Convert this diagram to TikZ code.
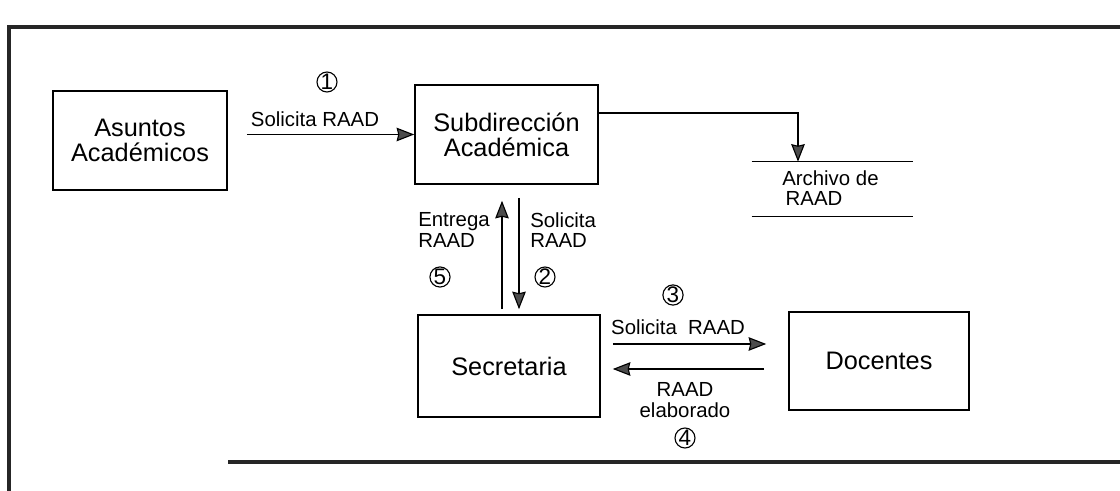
\documentclass[tikz,border=0pt]{standalone}
\usepackage{fontspec}
\setmainfont{Liberation Sans}
\usetikzlibrary{arrows.meta}
\begin{document}
\begin{tikzpicture}[x=0.025cm, y=-0.025cm,
  unidad/.style={draw, line width=1.1pt, inner sep=2pt, align=center,
                 font=\fontsize{18}{18}\selectfont,
                 minimum width=#1, minimum height=2.475cm},
  unidad/.default=4.5cm,
  arr/.style={-{Stealth[length=4.4mm, width=3.4mm, inset=0.4mm, fill=black!70]},
              line width=0.8pt, draw=black},
  lbl/.style={font=\fontsize{14.5}{14.5}\selectfont, inner sep=0pt},
  num/.style={draw, circle, line width=0.8pt, minimum size=0.5cm, inner sep=0pt,
              font=\fontsize{16}{16}\selectfont},
  marco/.style={line width=2.4pt, draw=black!85}
]
  \useasboundingbox (0,0) rectangle (1120,491);

  % Marco escaneado
  \draw[marco] (9,491) -- (9,27) -- (1120,27);
  \draw[marco] (228,462) -- (1120,462);

  % Unidades
  \node[unidad=4.35cm]  (asuntos)  at (140,140.5) {Asuntos\\Académicos};
  \node[unidad=4.575cm] (subdir)   at (506.5,134.5) {Subdirección\\Académica};
  \node[unidad=4.55cm, minimum height=2.55cm] (secret) at (509,366) {Secretaria};
  \node[unidad=4.5cm, minimum height=2.45cm]  (docentes) at (879,361) {Docentes};

  % Archivo
  \node[minimum width=4.025cm, minimum height=1.35cm, inner sep=0pt] (archivo) at (832.5,189) {};
  \draw[line width=0.8pt] (archivo.north west) -- (archivo.north east);
  \draw[line width=0.8pt] (archivo.south west) -- (archivo.south east);
  \node[lbl, align=left, anchor=west] (archtxt) at (782,188) {Archivo de\\\,RAAD};

  % Paso 1
  \draw[arr, shorten <=4.75mm] (asuntos.east |- subdir.west) -- (subdir.west);
  \node[lbl] (l1) at (315,119) {Solicita RAAD};
  \node[num] (n1) at (327,82) {1};

  % Subdireccion -> archivo
  \coordinate (k1) at (798,113);
  \draw[arr] (subdir.east |- k1) -- (k1) -- (k1 |- archivo.north);

  % Pasos 2 y 5
  \draw[arr, shorten <=3.25mm, shorten >=1.25mm]
    ([xshift=2.5mm]secret.north |- subdir.south) -- ([xshift=2.5mm]secret.north);
  \draw[arr, shorten <=1.25mm, shorten >=4mm]
    ([xshift=-1.75mm]secret.north) -- ([xshift=-1.75mm]secret.north |- subdir.south);
  \node[lbl, align=left, anchor=west] (l5) at (418,230) {Entrega\\RAAD};
  \node[lbl, align=left, anchor=west] (l2) at (530,230) {Solicita\\RAAD};
  \node[num] (n5) at (440,277) {5};
  \node[num] (n2) at (545,277) {2};

  % Pasos 3 y 4
  \draw[arr, shorten <=3mm, shorten >=5.5mm]
    ([yshift=5.5mm]secret.east) -- ([yshift=5.5mm]secret.east -| docentes.west);
  \draw[arr, shorten <=6mm, shorten >=3mm]
    ([yshift=-0.75mm]secret.east -| docentes.west) -- ([yshift=-0.75mm]secret.east);
  \node[lbl] (l3) at (678,327) {Solicita\ \ RAAD};
  \node[num] (n3) at (673,295) {3};
  \node[lbl, align=center] (l4) at (685,400) {RAAD\\elaborado};
  \node[num] (n4) at (685,438) {4};
\end{tikzpicture}
\end{document}
